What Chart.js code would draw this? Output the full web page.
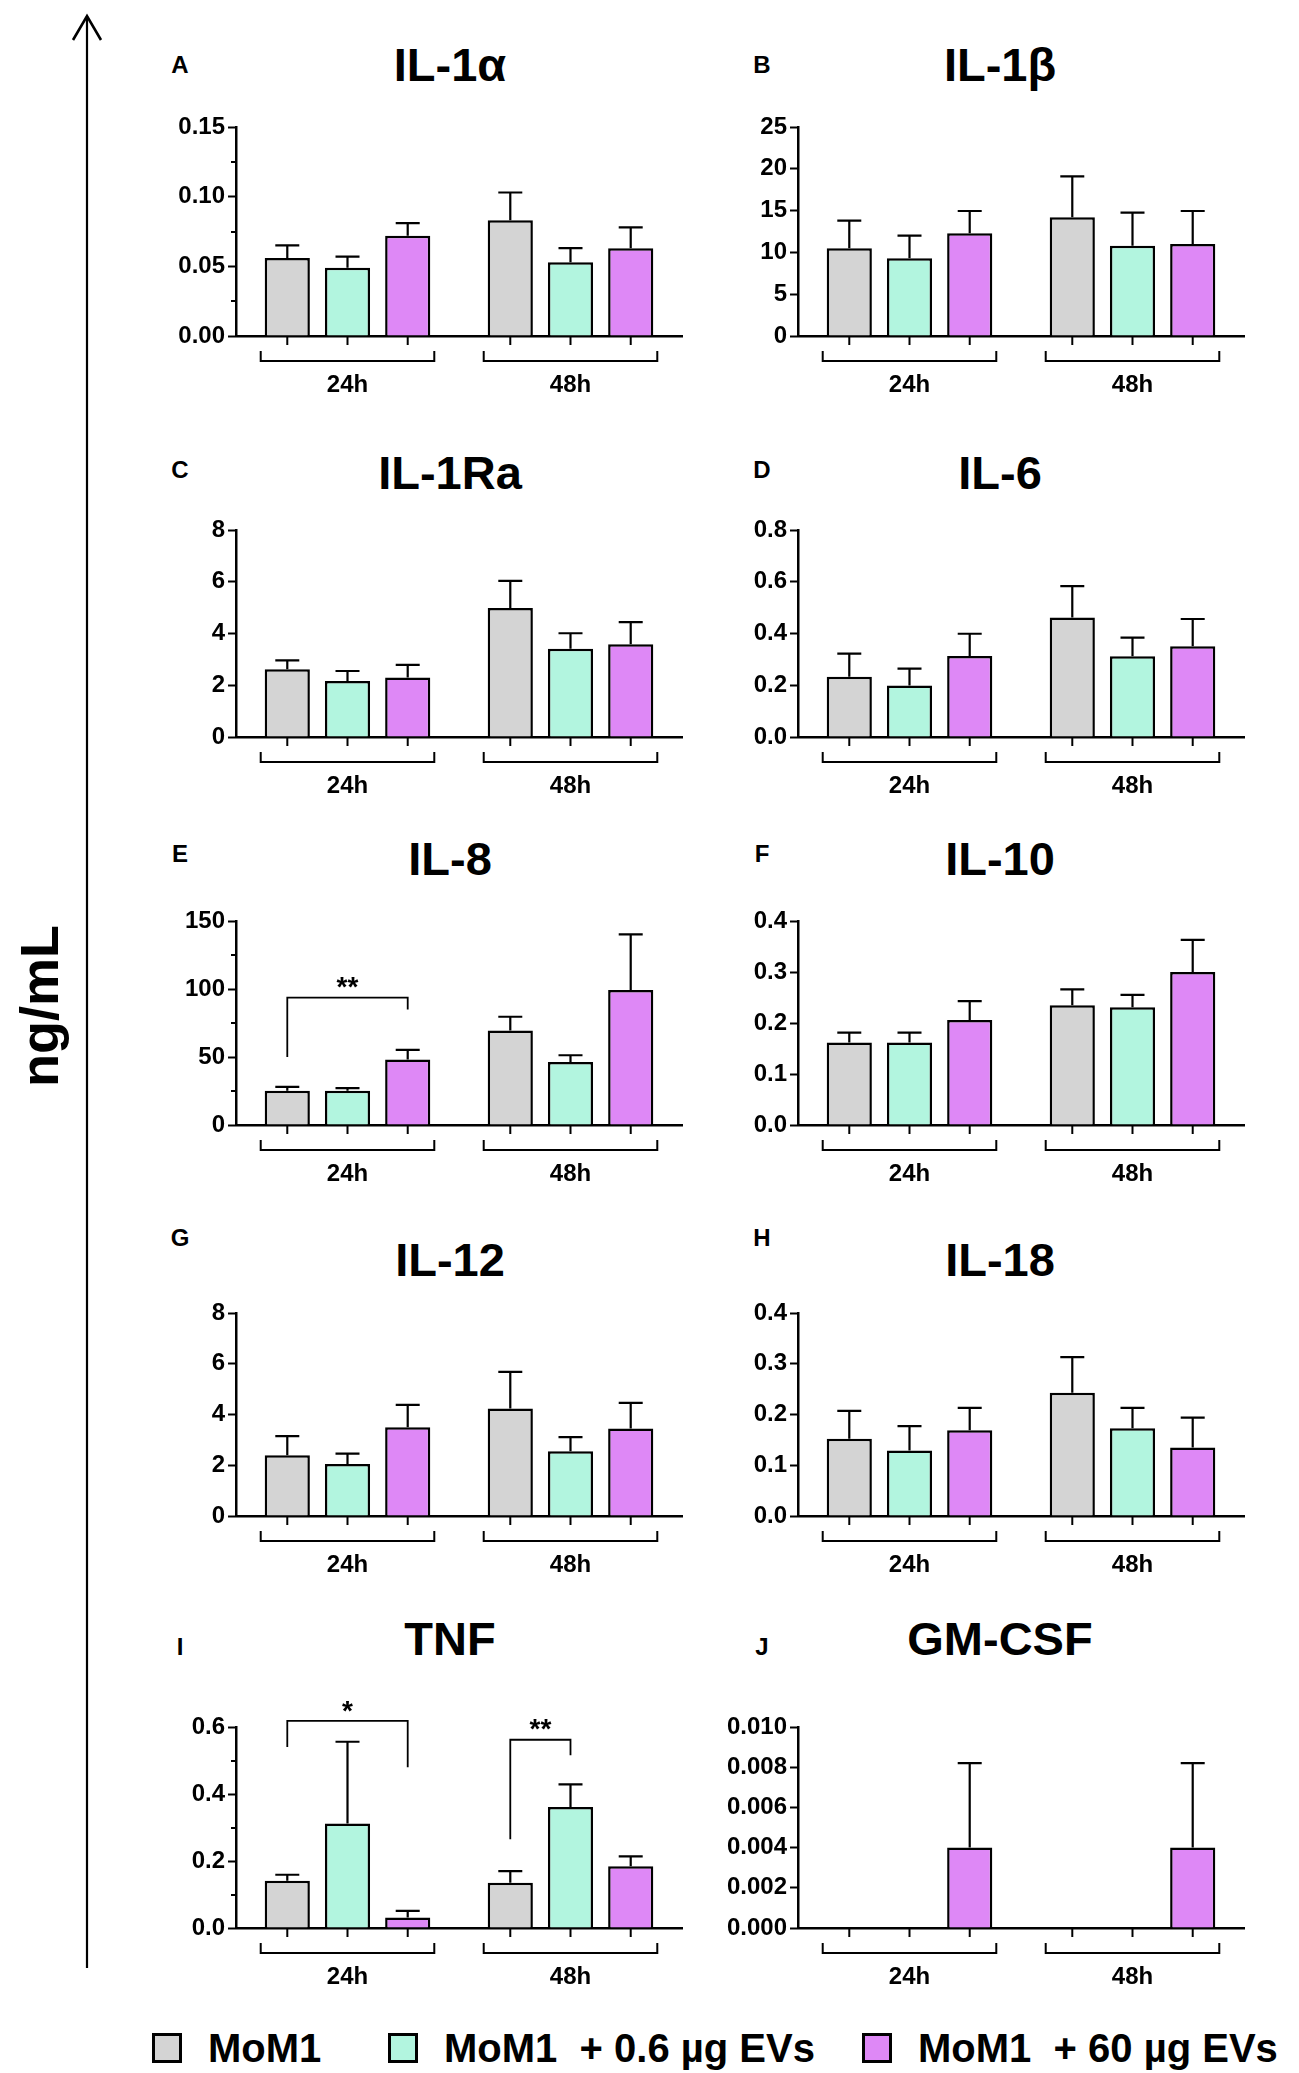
<!DOCTYPE html>
<html>
<head>
<meta charset="utf-8">
<script src="https://cdn.jsdelivr.net/npm/chart.js@4.4.1/dist/chart.umd.min.js"></script>
<style>
  html, body { margin: 0; padding: 0; background: #ffffff; }
  body { width: 1299px; height: 2073px; position: relative; overflow: hidden;
         font-family: "Liberation Sans", Arial, sans-serif; color: #000; }
  .abs { position: absolute; }
  .title { position: absolute; font-weight: bold; font-size: 47px; line-height: 1;
           transform: translate(-50%, -50%); white-space: nowrap; }
  .letter { position: absolute; font-weight: bold; font-size: 24px; line-height: 1;
            transform: translate(-50%, -50%); }
  canvas { position: absolute; }
  .legend { position: absolute; top: 2026px; left: 0; height: 44px; }
  .lg-item { position: absolute; top: 0; height: 44px; display: flex; align-items: center;
             font-weight: bold; font-size: 40px; line-height: 1; white-space: pre; }
  .lg-box { width: 30px; height: 30px; border: 3px solid #000; box-sizing: border-box; margin-right: 26px; }
  .ylab { position: absolute; font-weight: bold; font-size: 54px; line-height: 1;
          transform: translate(-50%, -50%) rotate(-90deg); white-space: nowrap; }
</style>
</head>
<body>

<svg class="abs" style="left:0;top:0" width="140" height="2073">
  <line x1="87" y1="16" x2="87" y2="1968" stroke="#000" stroke-width="2.2"/>
  <polyline points="73,40 87,16 101,40" fill="none" stroke="#000" stroke-width="2.6" stroke-linejoin="miter"/>
</svg>
<div class="ylab" style="left:39px;top:1006px">ng/mL</div>

<div id="root"></div>

<div class="legend">
  <div class="lg-item" style="left:152px"><div class="lg-box" id="lb0"></div><span id="lt0"></span></div>
  <div class="lg-item" style="left:388px"><div class="lg-box" id="lb1"></div><span id="lt1"></span></div>
  <div class="lg-item" style="left:862px"><div class="lg-box" id="lb2"></div><span id="lt2"></span></div>
</div>

<script>
// ---------------- DATA ----------------
const groupLabels = ['24h', '48h'];
const seriesNames = ['MoM1', 'MoM1  + 0.6 µg EVs', 'MoM1  + 60 µg EVs'];
const seriesColors = ['#d4d4d4', '#b2f5df', '#de88f6'];

const panelLetters = ['A', 'B', 'C', 'D', 'E', 'F', 'G', 'H', 'I', 'J'];
const panelTitles = ['IL-1α', 'IL-1β', 'IL-1Ra', 'IL-6', 'IL-8', 'IL-10', 'IL-12', 'IL-18', 'TNF', 'GM-CSF'];

// y axis: max, major step, minor step, decimals
const yMax = [0.15, 25, 8, 0.8, 150, 0.4, 8, 0.4, 0.6, 0.010];
const yMajor = [0.05, 5, 2, 0.2, 50, 0.1, 2, 0.1, 0.2, 0.002];
const yMinor = [0.025, 2.5, 1, 0.1, 25, 0.05, 1, 0.05, 0.1, 0.001];
const yDecimals = [2, 0, 0, 1, 0, 1, 0, 1, 1, 3];

// means per series: [24h, 48h]  and upper error (mean -> error cap)
const il1aMeans = [[0.056, 0.083], [0.049, 0.053], [0.072, 0.063]];
const il1aErrs  = [[0.009, 0.020], [0.008, 0.010], [0.009, 0.015]];
const il1bMeans = [[10.5, 14.2], [9.3, 10.8], [12.3, 11.0]];
const il1bErrs  = [[3.3, 4.9], [2.7, 3.95], [2.65, 3.95]];
const il1raMeans = [[2.62, 4.99], [2.16, 3.41], [2.30, 3.58]];
const il1raErrs  = [[0.34, 1.04], [0.39, 0.60], [0.49, 0.86]];
const il6Means = [[0.233, 0.462], [0.199, 0.312], [0.313, 0.351]];
const il6Errs  = [[0.089, 0.121], [0.065, 0.072], [0.086, 0.105]];
const il8Means = [[25.2, 69.4], [25.2, 46.4], [48.1, 99.2]];
const il8Errs  = [[2.9, 10.2], [1.9, 4.9], [7.1, 41.0]];
const il10Means = [[0.162, 0.235], [0.162, 0.231], [0.206, 0.300]];
const il10Errs  = [[0.019, 0.031], [0.019, 0.024], [0.037, 0.063]];
const il12Means = [[2.39, 4.24], [2.05, 2.55], [3.50, 3.45]];
const il12Errs  = [[0.76, 1.44], [0.41, 0.56], [0.88, 1.01]];
const il18Means = [[0.152, 0.243], [0.129, 0.173], [0.169, 0.135]];
const il18Errs  = [[0.055, 0.070], [0.048, 0.040], [0.044, 0.059]];
const tnfMeans = [[0.141, 0.135], [0.312, 0.361], [0.031, 0.184]];
const tnfErrs  = [[0.018, 0.035], [0.244, 0.068], [0.020, 0.030]];
const gmcsfMeans = [[0, 0], [0, 0], [0.0040, 0.0040]];
const gmcsfErrs  = [[0, 0], [0, 0], [0.0042, 0.0042]];

const panelMeans = [il1aMeans, il1bMeans, il1raMeans, il6Means, il8Means, il10Means, il12Means, il18Means, tnfMeans, gmcsfMeans];
const panelErrs  = [il1aErrs, il1bErrs, il1raErrs, il6Errs, il8Errs, il10Errs, il12Errs, il18Errs, tnfErrs, gmcsfErrs];

// significance brackets: group, series from, series to, bar level, left leg end, right leg end, label, label level
const il8Sig = [[0, 0, 2, 93.6, 50, 85, '**', 106]];
const tnfSig = [[0, 0, 2, 0.618, 0.54, 0.48, '*', 0.665], [1, 0, 1, 0.562, 0.265, 0.516, '**', 0.61]];
const panelSig = [[], [], [], [], il8Sig, [], [], [], tnfSig, []];

// ---------------- LAYOUT ----------------
const rowTop = [127, 530, 921, 1313, 1727];
const rowBottom = [336, 737, 1125, 1516, 1928];
const colAxisX = [236, 798];
const titleX = [450, 1000];
const titleY = [64, 472, 858, 1259, 1638];
const letterX = [180, 762];
const letterY = [65, 470, 854, 1238, 1647];
const Y_W = 86, PLOT_W = 446, PAD_TOP = 44, X_H = 70, PAD_R = 13;
const FONT = '"Liberation Sans", Arial, sans-serif';

for (let i = 0; i < 3; i++) {
  document.getElementById('lb' + i).style.background = seriesColors[i];
  document.getElementById('lt' + i).textContent = seriesNames[i];
}

function isMajor(v, major) {
  const r = v / major;
  return Math.abs(r - Math.round(r)) < 1e-6;
}

const annotPlugin = {
  id: 'annot',
  afterDraw(chart) {
    const ctx = chart.ctx;
    const idx = chart.options.plugins.annot.panel;
    const errs = panelErrs[idx];
    const means = panelMeans[idx];
    const ys = chart.scales.y;
    const area = chart.chartArea;
    ctx.save();
    ctx.strokeStyle = '#000';
    ctx.lineWidth = 2;
    ctx.lineCap = 'butt';
    // minor ticks on the y axis (shorter than the major ones)
    for (const t of ys.ticks) {
      if (isMajor(t.value, yMajor[idx])) continue;
      const y = Math.round(ys.getPixelForValue(t.value));
      ctx.beginPath();
      ctx.moveTo(area.left - 5, y);
      ctx.lineTo(area.left, y);
      ctx.stroke();
    }
    // error bars
    ctx.lineWidth = 2.2;
    for (let s = 0; s < 3; s++) {
      const meta = chart.getDatasetMeta(s);
      for (let g = 0; g < 2; g++) {
        const e = errs[s][g];
        if (!e) continue;
        const bar = meta.data[g];
        const yTop = ys.getPixelForValue(means[s][g] + e);
        const yBase = ys.getPixelForValue(means[s][g]);
        ctx.beginPath();
        ctx.moveTo(bar.x, yBase);
        ctx.lineTo(bar.x, yTop);
        ctx.moveTo(bar.x - 12, yTop);
        ctx.lineTo(bar.x + 12, yTop);
        ctx.stroke();
      }
    }
    // ticks under each bar and group brackets
    ctx.lineWidth = 2;
    const b = area.bottom;
    for (let g = 0; g < 2; g++) {
      let left = Infinity, right = -Infinity;
      for (let s = 0; s < 3; s++) {
        const bar = chart.getDatasetMeta(s).data[g];
        ctx.beginPath();
        ctx.moveTo(bar.x, b);
        ctx.lineTo(bar.x, b + 9);
        ctx.stroke();
        left = Math.min(left, bar.x - bar.width / 2);
        right = Math.max(right, bar.x + bar.width / 2);
      }
      ctx.beginPath();
      ctx.moveTo(left - 4, b + 15);
      ctx.lineTo(left - 4, b + 25);
      ctx.lineTo(right + 4, b + 25);
      ctx.lineTo(right + 4, b + 15);
      ctx.stroke();
    }
    // significance
    ctx.fillStyle = '#000';
    ctx.font = 'bold 28px ' + FONT;
    ctx.textAlign = 'center';
    ctx.textBaseline = 'middle';
    ctx.lineWidth = 1.8;
    for (const sg of panelSig[idx]) {
      const [g, s1, s2, lvl, l1, l2, txt, tl] = sg;
      const x1 = chart.getDatasetMeta(s1).data[g].x;
      const x2 = chart.getDatasetMeta(s2).data[g].x;
      const yl = ys.getPixelForValue(lvl);
      ctx.beginPath();
      ctx.moveTo(x1, ys.getPixelForValue(l1));
      ctx.lineTo(x1, yl);
      ctx.lineTo(x2, yl);
      ctx.lineTo(x2, ys.getPixelForValue(l2));
      ctx.stroke();
      ctx.fillText(txt, (x1 + x2) / 2, ys.getPixelForValue(tl) + 7);
    }
    ctx.restore();
  }
};

const root = document.getElementById('root');
for (let p = 0; p < 10; p++) {
  const row = Math.floor(p / 2), col = p % 2;
  const t = document.createElement('div');
  t.className = 'title';
  t.style.left = titleX[col] + 'px';
  t.style.top = titleY[row] + 'px';
  t.textContent = panelTitles[p];
  root.appendChild(t);
  const l = document.createElement('div');
  l.className = 'letter';
  l.style.left = letterX[col] + 'px';
  l.style.top = letterY[row] + 'px';
  l.textContent = panelLetters[p];
  root.appendChild(l);

  const cw = Y_W + PLOT_W + PAD_R;
  const ch = PAD_TOP + (rowBottom[row] - rowTop[row]) + X_H;
  const cv = document.createElement('canvas');
  cv.width = cw; cv.height = ch;
  cv.style.width = cw + 'px'; cv.style.height = ch + 'px';
  cv.style.left = (colAxisX[col] - Y_W) + 'px';
  cv.style.top = (rowTop[row] - PAD_TOP) + 'px';
  root.appendChild(cv);

  const means = panelMeans[p];
  const datasets = [0, 1, 2].map(s => ({
    label: seriesNames[s],
    data: means[s],
    backgroundColor: seriesColors[s],
    borderColor: '#000',
    borderWidth: 2.5,
    borderSkipped: 'bottom',
    categoryPercentage: 0.81,
    barPercentage: 0.75
  }));
  const major = yMajor[p], dec = yDecimals[p];
  new Chart(cv, {
    type: 'bar',
    data: { labels: groupLabels, datasets },
    options: {
      responsive: false,
      animation: false,
      devicePixelRatio: 1,
      layout: { padding: { top: PAD_TOP, right: PAD_R, left: 0, bottom: 0 } },
      plugins: { legend: { display: false }, tooltip: { enabled: false }, title: { display: false }, annot: { panel: p } },
      scales: {
        x: {
          offset: true,
          grid: { display: false, drawTicks: false },
          border: { display: true, color: '#000', width: 2.5 },
          ticks: { color: '#000', padding: 35, font: { family: FONT, size: 24, weight: 'bold' }, maxRotation: 0 },
          afterFit(scale) { scale.height = X_H; }
        },
        y: {
          min: 0, max: yMax[p],
          grid: {
            display: true, drawOnChartArea: false, drawTicks: true, tickLength: 8, tickWidth: 2,
            tickColor: (c) => (c.tick && isMajor(c.tick.value, major)) ? '#000' : 'rgba(0,0,0,0)'
          },
          border: { display: true, color: '#000', width: 2.5 },
          ticks: {
            stepSize: yMinor[p],
            color: '#000',
            padding: 3,
            font: { family: FONT, size: 24, weight: 'bold' },
            callback(v) {
              if (isMajor(v, major)) return (Math.round(v / major) * major).toFixed(dec);
              return '';
            }
          },
          afterFit(scale) { scale.width = Y_W; }
        }
      }
    },
    plugins: [annotPlugin]
  });
}
</script>
</body>
</html>
